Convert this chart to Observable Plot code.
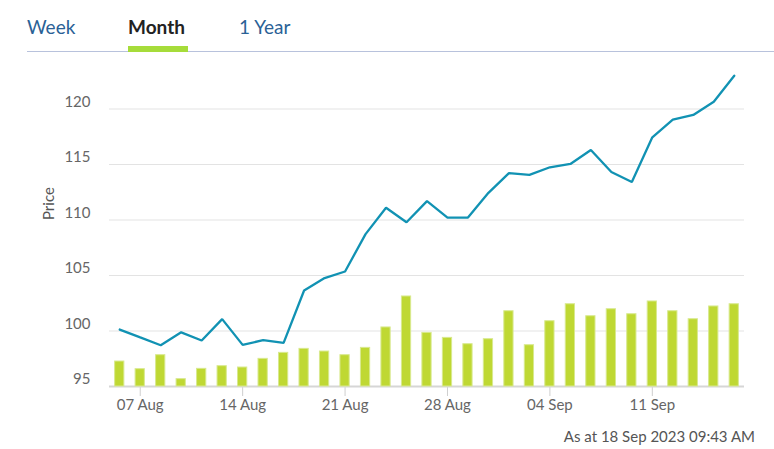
<!DOCTYPE html>
<html><head><meta charset="utf-8">
<script src="https://cdn.jsdelivr.net/npm/d3@7"></script>
<script src="https://cdn.jsdelivr.net/npm/@observablehq/plot@0.6"></script>
<style>
body{margin:0;background:#fff;font-family:Lato,"Open Sans",sans-serif;}
#page{position:relative;width:774px;height:449px;overflow:hidden;}
.tab{position:absolute;top:15px;font-size:19px;line-height:24px;color:#2a6196;white-space:nowrap;}
#tabline{position:absolute;left:27px;top:51px;width:747px;height:1px;background:#b8c2dc;}
#tabsel{position:absolute;left:128px;top:46px;width:60px;height:6px;background:#a6dc3a;}
#chart{position:absolute;left:0;top:52px;width:774px;height:368px;}
#chart svg{position:absolute;left:0;top:0;}
#caption{position:absolute;right:19px;top:427px;font-size:15px;line-height:18px;color:#555;white-space:nowrap;}
</style></head><body>
<div id="page">
  <div class="tab" style="left:27px">Week</div>
  <div class="tab" style="left:128px;font-weight:bold;color:#222">Month</div>
  <div class="tab" style="left:239px">1 Year</div>
  <div id="tabline"></div><div id="tabsel"></div>
  <div id="chart"></div>
  <div id="caption">As at 18 Sep 2023 09:43 AM</div>
</div>
<script>
const dates = ["2023-08-04",
  "2023-08-07","2023-08-08","2023-08-09","2023-08-10","2023-08-11",
  "2023-08-14","2023-08-15","2023-08-16","2023-08-17","2023-08-18",
  "2023-08-21","2023-08-22","2023-08-23","2023-08-24","2023-08-25",
  "2023-08-28","2023-08-29","2023-08-30","2023-08-31","2023-09-01",
  "2023-09-04","2023-09-05","2023-09-06","2023-09-07","2023-09-08",
  "2023-09-11","2023-09-12","2023-09-13","2023-09-14","2023-09-15"];
const prices = [100.13,
  99.42, 98.72, 99.88, 99.14, 101.07,
  98.75, 99.17, 98.93, 103.65, 104.77,
  105.36, 108.73, 111.10, 109.80, 111.70,
  110.22, 110.22, 112.45, 114.22, 114.07,
  114.75, 115.05, 116.30, 114.32, 113.42,
  117.45, 119.04, 119.46, 120.65, 123.00];
// volume (millions)
const volumes = [0.225,
  0.156, 0.282, 0.066, 0.159, 0.183,
  0.171, 0.249, 0.303, 0.339, 0.315,
  0.282, 0.348, 0.532, 0.811, 0.483,
  0.438, 0.381, 0.426, 0.678, 0.372,
  0.588, 0.741, 0.633, 0.696, 0.651,
  0.766, 0.678, 0.606, 0.721, 0.741];
const priceTicks = [95, 100, 105, 110, 115, 120];
const tickDates = ["2023-08-07","2023-08-14","2023-08-21","2023-08-28","2023-09-04","2023-09-11"];
const tickLabels = ["07 Aug","14 Aug","21 Aug","28 Aug","04 Sep","11 Sep"];

const data = dates.map((d, i) => ({date: d, price: prices[i], volume: volumes[i]}));

const common = {
  width: 774, height: 368,
  marginTop: 1, marginRight: 30, marginBottom: 34, marginLeft: 109,
  style: {background: "transparent", fontFamily: "Lato, 'Open Sans', sans-serif", overflow: "visible"}
};
const xOpts = {type: "band", domain: dates, paddingInner: 0.5, paddingOuter: 0.25, align: 0.5, round: false};

const base = Plot.plot({
  ...common,
  x: {...xOpts},
  y: {domain: [95, 125], axis: null},
  marks: [
    Plot.ruleY(priceTicks.slice(1), {stroke: "#e3e3e3", strokeWidth: 1.2}),
    Plot.text(priceTicks, {y: d => d, frameAnchor: "left", textAnchor: "end", dx: -19, dy: -7,
      fontSize: 15, fill: "#666"}),
    Plot.axisX({ticks: tickDates, tickFormat: d => tickLabels[tickDates.indexOf(d)], tickSize: 10, tickPadding: 3,
      stroke: "#cfcfcf", fontSize: 15, fill: "#666", label: null}),
    Plot.ruleY([95], {stroke: "#d6d6d6", strokeWidth: 2}),
    Plot.text(["Price"], {frameAnchor: "left", rotate: -90, dx: -60, fontSize: 15, fill: "#555"})
  ]
});

const bars = Plot.plot({
  ...common,
  x: {...xOpts, axis: null},
  y: {domain: [0, 3], axis: null},
  marks: [
    Plot.barY(data, {x: "date", y: "volume", fill: "#bfd833", stroke: "#d8e98e", strokeWidth: 1, insetLeft: 0.5, insetRight: 0.5})
  ]
});

const line = Plot.plot({
  ...common,
  x: {...xOpts, axis: null},
  y: {domain: [95, 125], axis: null},
  marks: [
    Plot.lineY(data, {x: "date", y: "price", stroke: "#1192b3", strokeWidth: 2.3, strokeLinejoin: "miter"})
  ]
});

const chart = document.getElementById("chart");
chart.append(base, bars, line);
</script>
</body></html>
